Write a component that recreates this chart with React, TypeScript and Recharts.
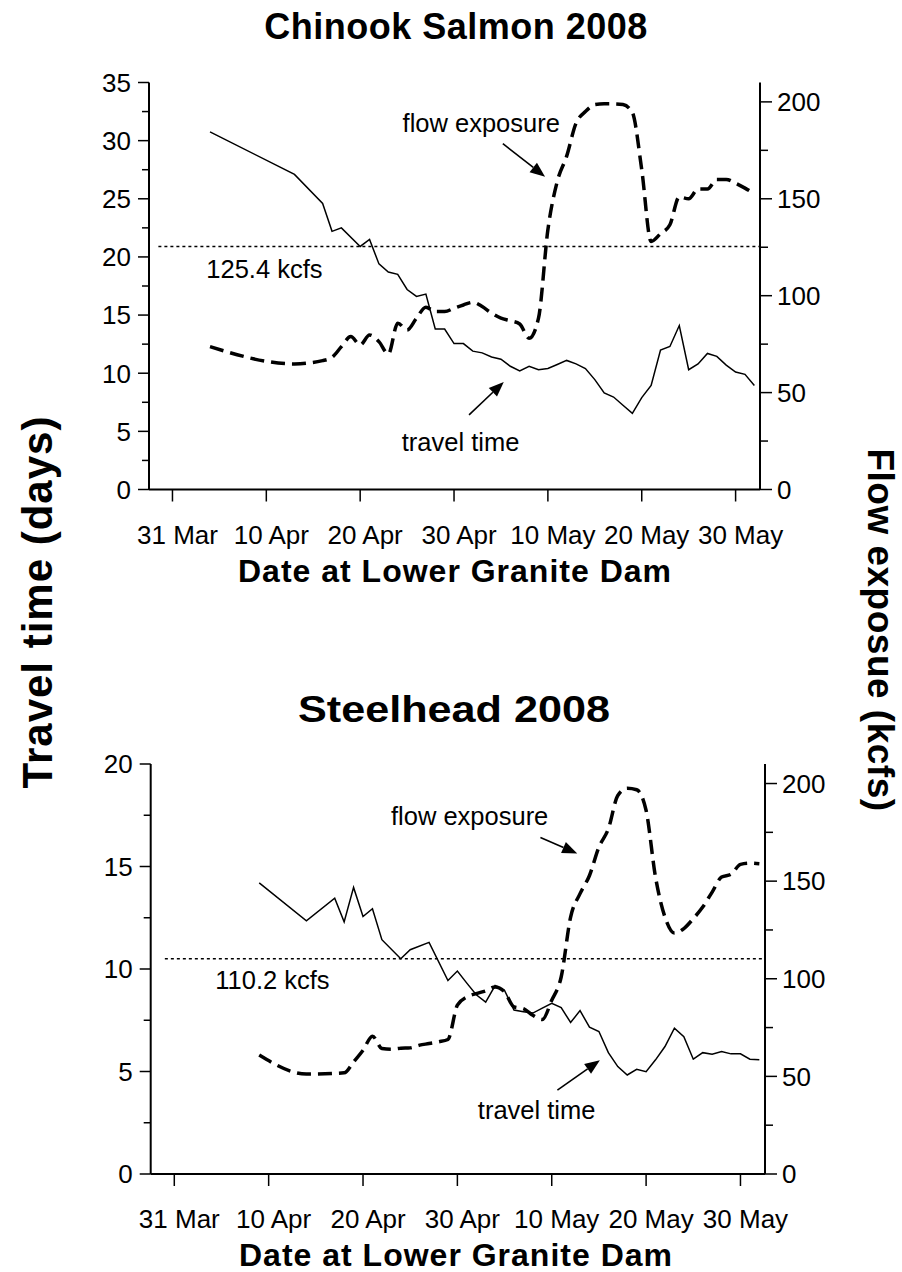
import React from 'react'
import { LineChart, Line, XAxis, YAxis, ReferenceLine, ReferenceDot } from 'recharts'

const FONT = '"Liberation Sans", Arial, Helvetica, sans-serif'

// x = days after 31 Mar 2008
const X_TICK_DAYS = [0, 10, 20, 30, 40, 50, 60]
const X_TICK_LABELS = ['31 Mar', '10 Apr', '20 Apr', '30 Apr', '10 May', '20 May', '30 May']

const FLOW_TICKS = [0, 25, 50, 75, 100, 125, 150, 175, 200]
const CHINOOK_TT_TICKS = [0, 2.5, 5, 7.5, 10, 12.5, 15, 17.5, 20, 22.5, 25, 27.5, 30, 32.5, 35]
const STEELHEAD_TT_TICKS = [0, 2.5, 5, 7.5, 10, 12.5, 15, 17.5, 20]

// Chinook salmon 2008
const CHINOOK_DAYS = [4, 13, 16, 17, 18, 19, 20, 21, 22, 23, 24, 25, 26, 27, 28, 29, 30, 31, 32, 33, 34, 35, 36, 37, 38, 39, 40, 41, 42, 43, 44, 45, 46, 47, 48, 49, 50, 51, 52, 53, 54, 55, 56, 57, 58, 59, 60, 61, 62]
const CHINOOK_TRAVEL = [30.75, 27.1, 24.6, 22.2, 22.5, null, 20.9, 21.5, 19.4, 18.7, 18.5, 17.2, 16.6, 16.8, 13.8, 13.8, 12.55, 12.55, 11.9, 11.75, 11.4, 11.2, 10.6, 10.2, 10.6, 10.3, 10.4, 10.75, 11.1, 10.8, 10.4, 9.45, 8.3, 7.95, 7.25, 6.55, 7.9, 8.95, 12.0, 12.3, 14.1, 10.3, 10.8, 11.7, 11.45, 10.7, 10.1, 9.9, 8.95]
const CHINOOK_FLOW = [73.7, 64.8, 66.5, 68.2, 73.7, 78.9, 74.6, 79.7, 76.3, 69.9, 85.8, 82.3, 88.4, 94.1, 91.8, 91.8, 93.5, 95.2, 96.6, 94.4, 91.0, 88.4, 87.1, 85.4, 78.0, 88.4, 134, 159, 172, 189, 195, 198.6, 199, 199, 198.6, 194.5, 165, 128, 132, 136.6, 151, 150, 155, 155, 160, 160, 158, 155.5, 152.6]
const CHINOOK_MEAN_FLOW = 125.4

// Steelhead 2008
const STEELHEAD_DAYS = [9, 14, 17, 18, 19, 20, 21, 22, 23, 24, 25, 26, 27, 28, 29, 30, 31, 32, 33, 34, 35, 36, 37, 38, 39, 40, 41, 42, 43, 44, 45, 46, 47, 48, 49, 50, 51, 52, 53, 54, 55, 56, 57, 58, 59, 60, 61, 62]
const STEELHEAD_TRAVEL = [14.2, 12.35, 13.45, 12.3, 13.98, 12.56, 12.94, 11.43, null, 10.5, 10.94, null, 11.3, null, 9.44, 9.9, 9.31, 8.74, 8.38, 9.19, 8.95, 8.0, 7.92, 7.85, 8.09, 8.33, 8.12, 7.39, 7.97, 7.16, 6.95, 5.92, 5.24, 4.83, 5.11, 4.99, 5.57, 6.22, 7.11, 6.7, 5.6, 5.92, 5.84, 5.97, 5.86, 5.86, 5.6, 5.57]
const STEELHEAD_FLOW = [60.9, 51.2, null, 51.8, 57.4, 63.4, 70.6, 64.3, 63.9, 64.4, 64.6, 66, 66.8, 67.7, 68.9, 86.5, 90.7, 92.4, 93.8, 95.8, 93.3, 85.6, 84.7, 81.3, 79.1, 89, 100.9, 131.6, 143.6, 152.9, 167.4, 176.8, 193.9, 197.6, 196.8, 186.2, 152, 131.6, 123.4, 125.7, 130.8, 136.7, 144.4, 152.1, 153.5, 158.6, 159.2, 158.9]
const STEELHEAD_MEAN_FLOW = 110.2

const rows = (days: number[], travel: (number | null)[], flow: (number | null)[]) =>
  days.map((d, i) => ({ day: d, travel: travel[i], flow: flow[i] }))

const leftTick = (p: any) => {
  const major = p.payload.value % 5 === 0
  const len = major ? 11 : 7
  return (
    <g>
      <line x1={p.x - len} y1={p.y} x2={p.x} y2={p.y} stroke="#000" strokeWidth={1.5} />
      {major && (
        <text x={p.x - 18} y={p.y + 9.3} textAnchor="end" fontSize={26} fontFamily={FONT} fill="#000">
          {p.payload.value}
        </text>
      )}
    </g>
  )
}

const rightTick = (p: any) => {
  const major = p.payload.value % 50 === 0
  const len = major ? 12 : 8
  return (
    <g>
      <line x1={p.x} y1={p.y} x2={p.x + len} y2={p.y} stroke="#000" strokeWidth={1.5} />
      {major && (
        <text x={p.x + 17} y={p.y + 9.3} textAnchor="start" fontSize={26} fontFamily={FONT} fill="#000">
          {p.payload.value}
        </text>
      )}
    </g>
  )
}

const bottomTick = (p: any) => {
  const idx = X_TICK_DAYS.indexOf(p.payload.value)
  return (
    <g>
      <line x1={p.x} y1={p.y} x2={p.x} y2={p.y + 12} stroke="#000" strokeWidth={1.5} />
      <text x={p.x + 5} y={p.y + 54} textAnchor="middle" fontSize={26} fontFamily={FONT} fill="#000">
        {X_TICK_LABELS[idx]}
      </text>
    </g>
  )
}

const note = (label: string) => (p: any) => (
  <text x={p.cx} y={p.cy} textAnchor="middle" dominantBaseline="central" fontSize={25.5} fontFamily={FONT} fill="#000">
    {label}
  </text>
)

const arrow = (p: any) => {
  const { x1, y1, x2, y2 } = p
  const dx = x2 - x1
  const dy = y2 - y1
  const len = Math.hypot(dx, dy) || 1
  const ux = dx / len
  const uy = dy / len
  const hl = 15
  const hw = 6
  const bx = x2 - ux * hl
  const by = y2 - uy * hl
  const pts = `${x2},${y2} ${bx - uy * hw},${by + ux * hw} ${bx + uy * hw},${by - ux * hw}`
  return (
    <g>
      <line x1={x1} y1={y1} x2={bx} y2={by} stroke="#000" strokeWidth={1.6} />
      <polygon points={pts} fill="#000" />
    </g>
  )
}

type Notes = {
  flowText: [number, number]
  flowArrow: [number, number, number, number]
  travelText: [number, number]
  travelArrow: [number, number, number, number]
  meanText: [number, number]
  meanStart: number
}

function Panel({ data, ttMax, ttTicks, mean, notes, height, margin, xAxisHeight }: {
  data: any[]; ttMax: number; ttTicks: number[]; mean: number; notes: Notes
  height: number; margin: any; xAxisHeight: number
}) {
  const axisLine = { stroke: '#000', strokeWidth: 2 }
  return (
    <LineChart width={902} height={height} data={data} margin={margin}>
      <XAxis
        xAxisId={0} type="number" dataKey="day" domain={[-2.5, 62.6]} allowDataOverflow
        ticks={X_TICK_DAYS} interval={0} tickSize={0} tickMargin={0} tickLine={false}
        axisLine={axisLine} tick={bottomTick} height={xAxisHeight}
      />
      <YAxis
        yAxisId="tt" domain={[0, ttMax]} allowDataOverflow ticks={ttTicks} interval={0}
        tickSize={0} tickMargin={0} tickLine={false} axisLine={axisLine} tick={leftTick} width={60}
      />
      <YAxis
        yAxisId="flow" orientation="right" domain={[0, 210]} allowDataOverflow ticks={FLOW_TICKS} interval={0}
        tickSize={0} tickMargin={0} tickLine={false} axisLine={axisLine} tick={rightTick} width={60}
      />
      <ReferenceLine
        yAxisId="flow" segment={[{ x: notes.meanStart, y: mean }, { x: 62.5, y: mean }]}
        stroke="#000" strokeWidth={1.5} strokeDasharray="3 3"
      />
      <Line yAxisId="tt" dataKey="travel" type="linear" stroke="#000" strokeWidth={1.5} dot={false} connectNulls isAnimationActive={false} />
      <Line yAxisId="flow" dataKey="flow" type="monotone" stroke="#000" strokeWidth={3.5} strokeDasharray="14 7" dot={false} connectNulls isAnimationActive={false} />
      <ReferenceDot yAxisId="flow" x={notes.flowText[0]} y={notes.flowText[1]} r={0} shape={note('flow exposure')} />
      <ReferenceDot yAxisId="flow" x={notes.travelText[0]} y={notes.travelText[1]} r={0} shape={note('travel time')} />
      <ReferenceDot yAxisId="flow" x={notes.meanText[0]} y={notes.meanText[1]} r={0} shape={note(`${mean} kcfs`)} />
      <ReferenceLine
        yAxisId="flow" shape={arrow}
        segment={[{ x: notes.flowArrow[0], y: notes.flowArrow[1] }, { x: notes.flowArrow[2], y: notes.flowArrow[3] }]}
      />
      <ReferenceLine
        yAxisId="flow" shape={arrow}
        segment={[{ x: notes.travelArrow[0], y: notes.travelArrow[1] }, { x: notes.travelArrow[2], y: notes.travelArrow[3] }]}
      />
    </LineChart>
  )
}

const CHINOOK_NOTES: Notes = {
  flowText: [32.9, 189.3],
  flowArrow: [35.2, 178.4, 39.7, 161.4],
  travelText: [30.7, 24.4],
  travelArrow: [31.6, 38.5, 35.3, 55.5],
  meanText: [9.8, 113.8],
  meanStart: -1.5,
}

const STEELHEAD_NOTES: Notes = {
  flowText: [31.3, 183.6],
  flowArrow: [38.8, 172.4, 42.7, 164.2],
  travelText: [38.4, 32.7],
  travelArrow: [40.6, 43.0, 45.1, 58.3],
  meanText: [10.4, 99.2],
  meanStart: -1.0,
}

export default function App() {
  const bold = { fontFamily: FONT, fontWeight: 700, fill: '#000' } as const
  return (
    <div style={{ position: 'absolute', left: 0, top: 0, width: 902, height: 1272, overflow: 'hidden', background: '#fff' }}>
      <div style={{ position: 'absolute', left: 0, top: 0 }}>
        <Panel
          data={rows(CHINOOK_DAYS, CHINOOK_TRAVEL, CHINOOK_FLOW)} ttMax={35} ttTicks={CHINOOK_TT_TICKS}
          mean={CHINOOK_MEAN_FLOW} notes={CHINOOK_NOTES} height={600}
          margin={{ top: 82.5, right: 82, bottom: 0, left: 89 }} xAxisHeight={110.5}
        />
      </div>
      <div style={{ position: 'absolute', left: 0, top: 680 }}>
        <Panel
          data={rows(STEELHEAD_DAYS, STEELHEAD_TRAVEL, STEELHEAD_FLOW)} ttMax={20} ttTicks={STEELHEAD_TT_TICKS}
          mean={STEELHEAD_MEAN_FLOW} notes={STEELHEAD_NOTES} height={590}
          margin={{ top: 84, right: 77, bottom: 0, left: 90.7 }} xAxisHeight={96}
        />
      </div>
      <svg width={902} height={1272} style={{ position: 'absolute', left: 0, top: 0, pointerEvents: 'none' }}>
        <text x={456} y={39} textAnchor="middle" fontSize={36} letterSpacing={0.5} {...bold}>Chinook Salmon 2008</text>
        <text x={454} y={722} textAnchor="middle" fontSize={36} textLength={312} lengthAdjust="spacingAndGlyphs" {...bold}>Steelhead 2008</text>
        <text x={455} y={582} textAnchor="middle" fontSize={32} letterSpacing={1} {...bold}>Date at Lower Granite Dam</text>
        <text x={456} y={1266} textAnchor="middle" fontSize={32} letterSpacing={1} {...bold}>Date at Lower Granite Dam</text>
        <text x={52} y={602} textAnchor="middle" fontSize={42} letterSpacing={1} transform="rotate(-90 52 602)" {...bold}>Travel time (days)</text>
        <text x={868} y={630} textAnchor="middle" fontSize={37} letterSpacing={0.5} transform="rotate(90 868 630)" {...bold}>Flow exposue (kcfs)</text>
      </svg>
    </div>
  )
}
